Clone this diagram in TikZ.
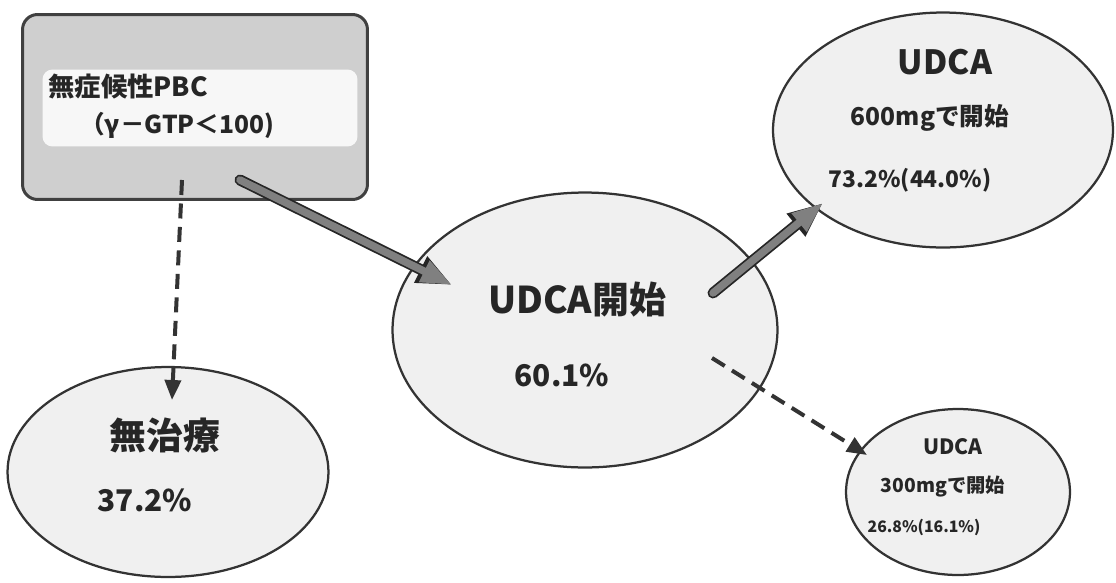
\documentclass[tikz,border=0pt]{standalone}
\usepackage{fontspec}
\setmainfont{Noto Sans CJK JP}
\usetikzlibrary{arrows.meta,shapes.geometric}

\begin{document}
\begin{tikzpicture}[x=0.02cm, y=-0.02cm,
    bubble/.style={ellipse, draw=black!80, line width=0.045cm, fill=gray!12, inner sep=0pt},
    outerbox/.style={rectangle, rounded corners=0.3cm, draw=black!75, line width=0.06cm, fill=gray!38},
    innerbox/.style={rectangle, rounded corners=0.2cm, fill=gray!6, inner sep=0pt},
    txt/.style={inner sep=0pt, text=black!85},
    bigarrow/.style={draw=black!50, line width=0.15cm, line cap=round,
      -{Triangle[length=0.62cm, width=0.44cm]},
      preaction={draw=black!85, line width=0.22cm, line cap=round, -{Triangle[length=0.7cm, width=0.54cm]}}},
    dasharrow/.style={draw=black!80, line width=0.08cm, dash pattern=on 0.3cm off 0.17cm,
      -{Triangle[length=0.4cm, width=0.32cm]}}]
  \useasboundingbox (0,0) rectangle (1116,582);

  % Nodes
  \node[outerbox, minimum width=6.9cm, minimum height=3.7cm] at (195,107) (pbc) {};
  \node[innerbox, minimum width=6.3cm, minimum height=1.54cm] at (200,108) (pbcin) {};
  \node[txt, anchor=west, font=\bfseries\fontsize{15}{15}\selectfont] at (48,87) (pbcname) {無症候性PBC};
  \node[txt, anchor=west, font=\bfseries\fontsize{14}{14}\selectfont] at (80,125) (pbcgtp) {（γ－GTP＜100)};

  \node[bubble, minimum width=6.42cm, minimum height=4.2cm] at (168,472) (none) {};
  \node[txt, font=\bfseries\fontsize{21}{21}\selectfont] at (165,435) (nonename) {無治療};
  \node[txt, font=\bfseries\fontsize{17}{17}\selectfont] at (145,500) (noneval) {37.2\%};

  \node[bubble, minimum width=7.7cm, minimum height=5.5cm] at (585,330) (udca) {};
  \node[txt, font=\bfseries\fontsize{21}{21}\selectfont] at (577,300) (udcaname) {UDCA開始};
  \node[txt, font=\bfseries\fontsize{17}{17}\selectfont] at (562,375) (udcaval) {60.1\%};

  \node[bubble, minimum width=6.8cm, minimum height=4.7cm] at (943,130) (hi) {};
  \node[txt, font=\bfseries\fontsize{19}{19}\selectfont] at (945,62) (hiname) {UDCA};
  \node[txt, font=\bfseries\fontsize{14}{14}\selectfont] at (930,118) (hidose) {600mgで開始};
  \node[txt, font=\bfseries\fontsize{13}{13}\selectfont] at (910,180) (hival) {73.2\%(44.0\%)};

  \node[bubble, minimum width=4.48cm, minimum height=3.32cm] at (958,492) (lo) {};
  \node[txt, font=\bfseries\fontsize{12}{12}\selectfont] at (953,447) (loname) {UDCA};
  \node[txt, font=\bfseries\fontsize{11}{11}\selectfont] at (943,487) (lodose) {300mgで開始};
  \node[txt, font=\bfseries\fontsize{9}{9}\selectfont] at (924,527) (loval) {26.8\%(16.1\%)};

  % Connectors
  \draw[dasharrow] ([shift={(-13,73)}]pbc.center) -- ([shift={(4,-72)}]none.center);
  \draw[bigarrow] ([shift={(45,73)}]pbc.center) -- ([shift={(-133,-45)}]udca.center);
  \draw[bigarrow] ([shift={(128,-37)}]udca.center) -- ([shift={(-120,73)}]hi.center);
  \draw[dasharrow] ([shift={(127,28)}]udca.center) -- ([shift={(-91,-37)}]lo.center);
\end{tikzpicture}
\end{document}
